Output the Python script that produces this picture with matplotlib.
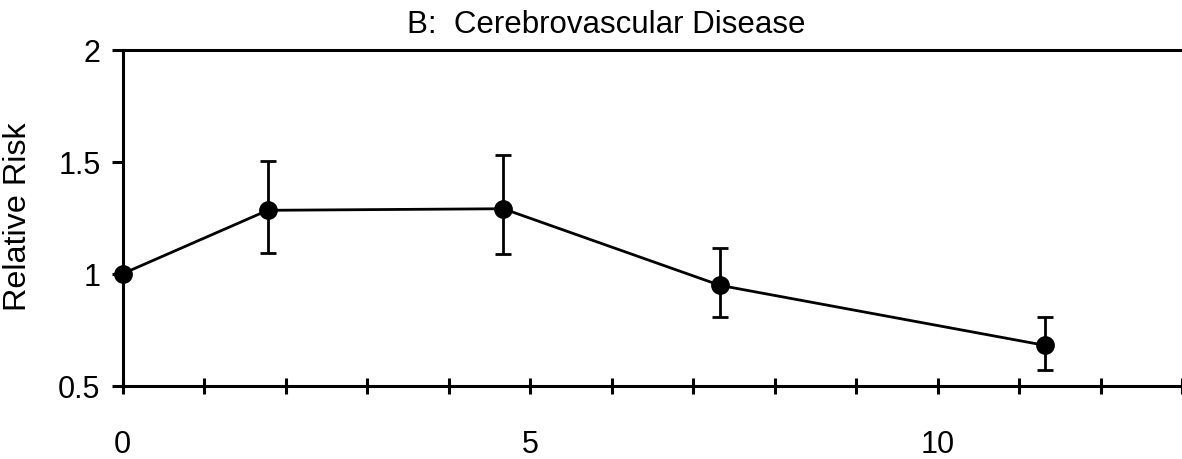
import numpy as np
import matplotlib
matplotlib.use("Agg")
import matplotlib.pyplot as plt
from matplotlib.ticker import MultipleLocator

# values
years = [0, 1.78, 4.67, 7.33, 11.32]
rel_risk = [1.0, 1.283, 1.290, 0.948, 0.680]
ci_low = [1.0, 1.094, 1.089, 0.807, 0.572]
ci_high = [1.0, 1.502, 1.528, 1.115, 0.807]

title = "B:  Cerebrovascular Disease"
ylabel = "Relative Risk"
yticks = [0.5, 1, 1.5, 2]
ytick_labels = ["0.5", "1", "1.5", "2"]
xticks = [0, 5, 10]
xtick_labels = ["0", "5", "10"]

plt.rcParams['font.family'] = ['Liberation Sans', 'DejaVu Sans']

W, H = 1182, 460
fig = plt.figure(figsize=(W/100, H/100), dpi=100)
left, right, top, bottom = 122.7, 1182, 50.7, 386.7
ax = fig.add_axes([left/W, 1-bottom/H, (right-left)/W, (bottom-top)/H])

lw_axis = 2.2

yv = np.array(rel_risk)
err = np.array([yv - np.array(ci_low), np.array(ci_high) - yv])

ax.plot(years, rel_risk, color='black', linewidth=2.0, marker='o',
        markersize=12.5, clip_on=False, zorder=3)
ax.errorbar(years[1:], rel_risk[1:], yerr=err[:, 1:], fmt='none',
            ecolor='black', elinewidth=2.0, capsize=5.8, capthick=2.0,
            clip_on=False, zorder=3)

ax.set_xlim(0, 13)
ax.set_ylim(0.5, 2)

ax.spines['right'].set_visible(False)
for s in ['left', 'bottom', 'top']:
    ax.spines[s].set_linewidth(lw_axis)

ax.set_yticks(yticks)
ax.set_yticklabels(ytick_labels)
ax.set_xticks(xticks)
ax.set_xticklabels(xtick_labels)
ax.xaxis.set_minor_locator(MultipleLocator(1))

ax.tick_params(axis='y', which='major', direction='out', length=8, width=lw_axis,
               labelsize=22, pad=8)
ax.tick_params(axis='x', which='both', direction='inout', length=12, width=lw_axis,
               labelsize=22, pad=25.5)
ax.tick_params(top=False, right=False)

fig.text(33.5/W, 1-216.7/H, ylabel, rotation=90, fontsize=23.3,
         ha='right', va='center')
fig.text(606/W, 1-33/H, title, fontsize=22.5, ha='center', va='baseline')

fig.savefig("out.png", dpi=100)
